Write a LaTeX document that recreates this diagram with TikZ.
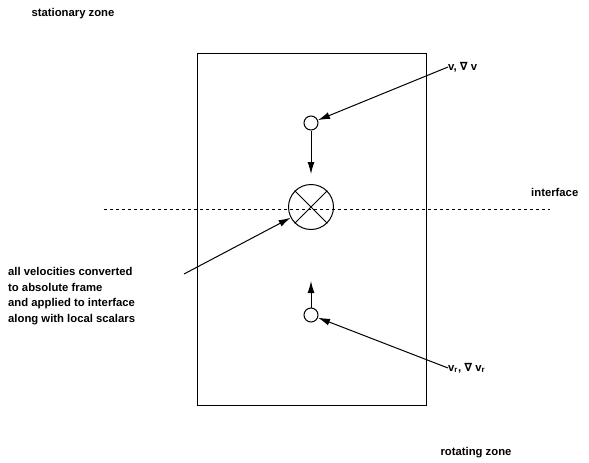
\documentclass[tikz,border=0pt]{standalone}
\usepackage{fontspec}
\setmainfont{Liberation Sans}
\newfontfamily\symfont{DejaVu Sans}
\usetikzlibrary{arrows.meta}

\newcommand{\nab}{{\symfont\bfseries ∇}}

\begin{document}
\begin{tikzpicture}[x=1pt, y=-1pt,
    lbl/.style={font=\bfseries\fontsize{11.3}{15.7}\selectfont, inner sep=0pt},
    probe/.style={draw, circle, minimum size=14pt, inner sep=0pt, line width=1pt},
    face/.style={draw, circle, minimum size=45pt, inner sep=0pt, line width=1pt},
    arr/.style={line width=1pt, -{Latex[length=12pt, width=7pt]}}]
    \useasboundingbox (0,0) rectangle (589,463);

    % Zone box and interface line
    \draw[line width=1pt] (197,53) rectangle (426,405);
    \draw[dashed, line width=0.7pt] (104,209) -- (550,209);

    % Circles at the interface and on each side
    \node[face] (cell) at (311,207) {};
    \draw[line width=1pt] (cell.45) -- (cell.225) (cell.135) -- (cell.315);
    \node[probe] (up) at (311,123) {};
    \node[probe] (down) at (311,315) {};
    \coordinate (uptip) at (311,174);
    \coordinate (downtip) at (311,281);

    % Labels
    \node[lbl] (stat) at (73,14) {stationary zone};
    \node[lbl] (rot) at (476,453) {rotating zone};
    \node[lbl, anchor=west] (iface) at (531,192) {interface};
    \node[lbl, anchor=west] (vs) at (448,67) {v, \nab\ v};
    \node[lbl, anchor=west] (vr) at (448,368) {v\textsubscript{r}, \nab\ v\textsubscript{r}};
    \node[lbl, anchor=north west, align=left] (note) at (8,267)
        {all velocities converted\\to absolute frame\\and applied to interface\\along with local scalars};
    \coordinate (notetail) at (184,274);

    % Arrows
    \draw[arr] (up) -- (uptip);
    \draw[arr] (down) -- (downtip);
    \draw[arr] (vs.west) -- (up);
    \draw[arr] (vr.west) -- (down);
    \draw[arr] (notetail) -- (cell);
\end{tikzpicture}
\end{document}
